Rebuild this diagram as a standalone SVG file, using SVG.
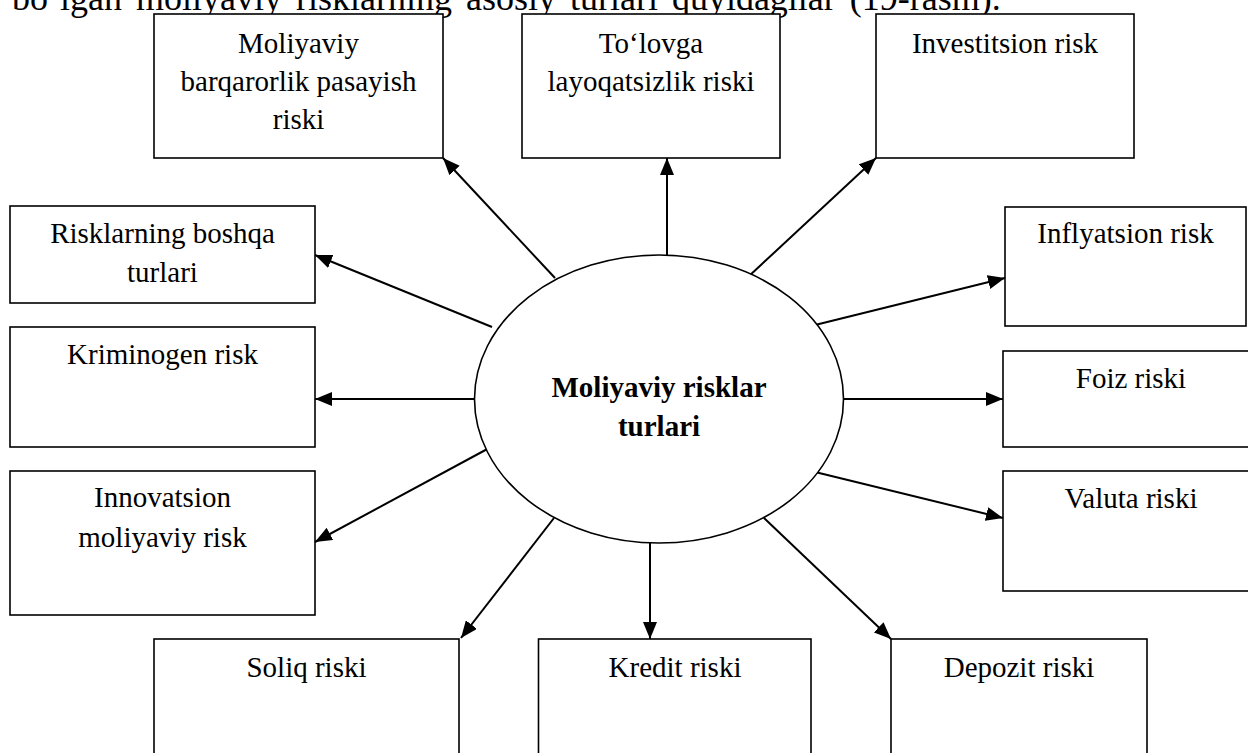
<svg xmlns="http://www.w3.org/2000/svg" width="1248" height="753" viewBox="0 0 1248 753">
<style>
.box{fill:#fff;stroke:#000;stroke-width:1.6}
.t{font-family:"Liberation Serif","Times New Roman",serif;font-size:29px;fill:#000;text-anchor:middle}
.b{font-weight:bold}
.c{stroke:#000;stroke-width:2;fill:none;marker-end:url(#ah)}
</style>
<defs>
<marker id="ah" markerUnits="userSpaceOnUse" markerWidth="18" markerHeight="14" refX="17" refY="7" orient="auto">
<path d="M0,0 L17,7 L0,14 Z" fill="#000"/>
</marker>
</defs>
<rect width="1248" height="753" fill="#fff"/>
<text x="12" y="10" font-family="Liberation Serif, serif" font-size="36" word-spacing="5" fill="#000">bo‘lgan moliyaviy risklarning asosiy turlari quyidagilar (19-rasm).</text>
<g id="connectors">
<line class="c" x1="555" y1="278" x2="443" y2="158"/>
<line class="c" x1="667" y1="255" x2="667" y2="158"/>
<line class="c" x1="748" y1="277" x2="876" y2="158"/>
<line class="c" x1="811" y1="326" x2="1005" y2="278"/>
<line class="c" x1="843" y1="399" x2="1003" y2="399"/>
<line class="c" x1="811" y1="471" x2="1003" y2="518"/>
<line class="c" x1="764" y1="518" x2="891" y2="639"/>
<line class="c" x1="650" y1="543" x2="650" y2="639"/>
<line class="c" x1="554" y1="518" x2="461" y2="638"/>
<line class="c" x1="491" y1="447" x2="315" y2="542"/>
<line class="c" x1="474" y1="399" x2="315" y2="399"/>
<line class="c" x1="492" y1="327" x2="315" y2="255"/>
</g>
<g id="center">
<ellipse cx="659" cy="399" rx="184.5" ry="144" fill="#fff" stroke="#000" stroke-width="1.6"/>
<text class="t b" x="659" y="397">Moliyaviy risklar</text>
<text class="t b" x="659" y="436">turlari</text>
</g>
<g id="n1"><rect class="box" x="154" y="14" width="289" height="144"/>
<text class="t" x="298.5" y="53">Moliyaviy</text><text class="t" x="298.5" y="91">barqarorlik pasayish</text><text class="t" x="298.5" y="129">riski</text></g>
<g id="n2"><rect class="box" x="522" y="14" width="258" height="144"/>
<text class="t" x="651" y="53">To‘lovga</text><text class="t" x="651" y="91">layoqatsizlik riski</text></g>
<g id="n3"><rect class="box" x="876" y="14" width="258" height="144"/>
<text class="t" x="1005" y="53">Investitsion risk</text></g>
<g id="n4"><rect class="box" x="1005" y="207" width="241" height="119"/>
<text class="t" x="1125.5" y="243">Inflyatsion risk</text></g>
<g id="n5"><rect class="box" x="1003" y="351" width="256" height="96"/>
<text class="t" x="1131" y="388">Foiz riski</text></g>
<g id="n6"><rect class="box" x="1003" y="471" width="256" height="120"/>
<text class="t" x="1131" y="508">Valuta riski</text></g>
<g id="n7"><rect class="box" x="10" y="206" width="305" height="97"/>
<text class="t" x="162.5" y="243">Risklarning boshqa</text><text class="t" x="162.5" y="282">turlari</text></g>
<g id="n8"><rect class="box" x="10" y="327" width="305" height="120"/>
<text class="t" x="162.5" y="364">Kriminogen risk</text></g>
<g id="n9"><rect class="box" x="10" y="471" width="305" height="144"/>
<text class="t" x="162.5" y="507">Innovatsion</text><text class="t" x="162.5" y="547">moliyaviy risk</text></g>
<g id="n10"><rect class="box" x="154" y="639" width="305" height="130"/>
<text class="t" x="306.5" y="677">Soliq riski</text></g>
<g id="n11"><rect class="box" x="538.5" y="639" width="272.5" height="130"/>
<text class="t" x="675" y="677">Kredit riski</text></g>
<g id="n12"><rect class="box" x="891" y="639" width="256" height="130"/>
<text class="t" x="1019" y="677">Depozit riski</text></g>
</svg>
